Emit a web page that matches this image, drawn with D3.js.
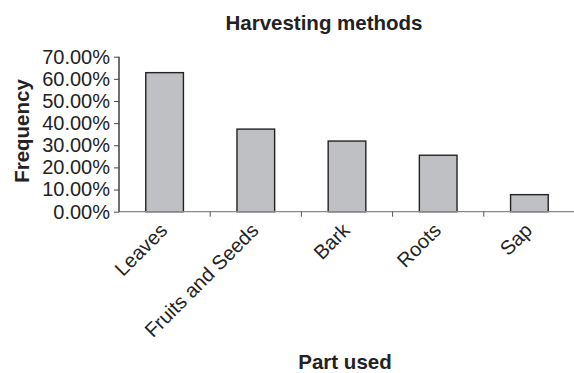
<!DOCTYPE html>
<html>
<head>
<meta charset="utf-8">
<script src="https://cdn.jsdelivr.net/npm/d3@7"></script>
<style>
body { margin: 0; background: #fff; }
text { font-family: "Liberation Sans", Arial, sans-serif; fill: #222; }
</style>
</head>
<body>
<div id="chart_wrapper"></div>
<script>
var categories = ["Leaves", "Fruits and Seeds", "Bark", "Roots", "Sap"];
var frequency = [0.628, 0.373, 0.319, 0.255, 0.077];
var yTicks = [0, 0.1, 0.2, 0.3, 0.4, 0.5, 0.6, 0.7];

var width = 574, height = 373,
    margin = { left: 119, right: -1, top: 56.7, bottom: 161.3 };
var w = width - margin.left - margin.right,
    h = height - margin.top - margin.bottom;

var svg = d3.select("#chart_wrapper").append("svg")
    .attr("width", width).attr("height", height);
var g = svg.append("g").attr("transform", "translate(" + margin.left + "," + margin.top + ")");

var x = d3.scaleBand().domain(categories).range([0, w]);
var y = d3.scaleLinear().domain([0, 0.7]).range([h, 0]);
var barW = x.bandwidth() * 0.413;

// bars
g.selectAll(".bar").data(categories).enter().append("rect")
    .attr("class", "bar")
    .attr("x", function(d) { return x(d) + (x.bandwidth() - barW) / 2; })
    .attr("y", function(d, i) { return y(frequency[i]); })
    .attr("width", barW)
    .attr("height", function(d, i) { return h - y(frequency[i]); })
    .attr("fill", "#bfc0c4")
    .attr("stroke", "#222")
    .attr("stroke-width", 1.4);

// x axis (gray line, ticks at band boundaries)
var xAxis = g.append("g").attr("transform", "translate(0," + h + ")");
xAxis.append("line").attr("x1", 0).attr("x2", w).attr("y1", 0).attr("y2", 0)
    .attr("stroke", "#888").attr("stroke-width", 1.3);
xAxis.selectAll(".xt").data(categories.slice(1)).enter().append("line")
    .attr("x1", function(d) { return x(d); }).attr("x2", function(d) { return x(d); })
    .attr("y1", 0).attr("y2", 5).attr("stroke", "#555").attr("stroke-width", 1);
xAxis.selectAll(".xl").data(categories).enter().append("text")
    .attr("text-anchor", "end")
    .attr("font-size", 20)
    .attr("transform", function(d) {
        return "translate(" + (x(d) + x.bandwidth() / 2 + 4) + ",20) rotate(-45)";
    })
    .text(function(d) { return d; });

// y axis
var yAxis = g.append("g")
    .call(d3.axisLeft(y).tickValues(yTicks).tickSize(5).tickPadding(4).tickFormat(d3.format(".2%")));
yAxis.select(".domain").attr("stroke", "#222").attr("stroke-width", 1.3).attr("d", "M0," + h + "V0");
yAxis.selectAll(".tick line").attr("stroke", "#444");
yAxis.selectAll(".tick text").attr("font-size", 20).attr("font-family", "Liberation Sans, Arial, sans-serif").attr("fill", "#222");

// titles
svg.append("text").attr("x", 324).attr("y", 30).attr("text-anchor", "middle")
    .attr("font-size", 20.5).attr("font-weight", "bold").text("Harvesting methods");
svg.append("text").attr("x", 345).attr("y", 369).attr("text-anchor", "middle")
    .attr("font-size", 20.5).attr("font-weight", "bold").text("Part used");
svg.append("text").attr("transform", "translate(28.5,131) rotate(-90)").attr("text-anchor", "middle")
    .attr("font-size", 20.5).attr("font-weight", "bold").text("Frequency");
</script>
</body>
</html>
